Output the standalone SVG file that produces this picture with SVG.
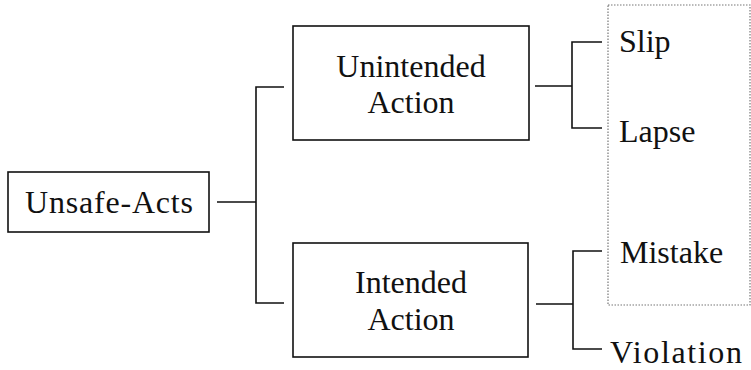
<svg xmlns="http://www.w3.org/2000/svg" width="751" height="370" viewBox="0 0 751 370">
<style>
.box{fill:#fff;stroke:#111;stroke-width:1.6}
.t{font-family:"Liberation Serif","Times New Roman",serif;font-size:32px;fill:#111}
.c{fill:none;stroke:#111;stroke-width:1.6}
.d{fill:none;stroke:#777;stroke-width:1.2;stroke-dasharray:1.5 1.5}
</style>
<rect width="751" height="370" fill="#fff"/>
<rect class="d" x="608" y="5" width="142" height="300"/>
<g id="connectors">
<path class="c" d="M217,202 H256 M284,87 H256 V303 H284"/>
<path class="c" d="M535,86 H572 M602,42 H572 V128 H602"/>
<path class="c" d="M536,304 H573 M602,251 H573 V349 H602"/>
</g>
<g id="unsafe-acts">
<rect class="box" x="8" y="172" width="201" height="60"/>
<text class="t" x="25" y="213" textLength="168" lengthAdjust="spacing">Unsafe-Acts</text>
</g>
<g id="unintended">
<rect class="box" x="293" y="26" width="236" height="114"/>
<text class="t" x="411" y="77" text-anchor="middle">Unintended</text>
<text class="t" x="411" y="113" text-anchor="middle">Action</text>
</g>
<g id="intended">
<rect class="box" x="293" y="243" width="235" height="114"/>
<text class="t" x="411" y="293" text-anchor="middle">Intended</text>
<text class="t" x="411" y="330" text-anchor="middle">Action</text>
</g>
<g id="slip"><text class="t" x="619" y="52">Slip</text></g>
<g id="lapse"><text class="t" x="619" y="142">Lapse</text></g>
<g id="mistake"><text class="t" x="620" y="263">Mistake</text></g>
<g id="violation"><text class="t" x="610" y="363" textLength="132" lengthAdjust="spacing">Violation</text></g>
</svg>
